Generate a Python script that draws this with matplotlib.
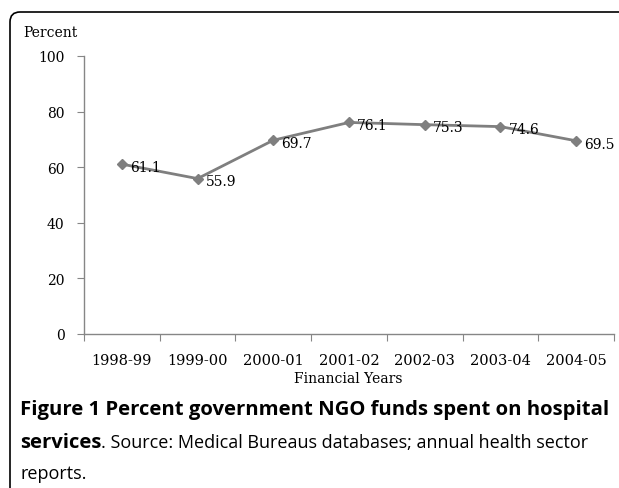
import matplotlib
matplotlib.use("Agg")
import matplotlib.pyplot as plt
from matplotlib.patches import FancyBboxPatch
from matplotlib.transforms import IdentityTransform

years = ["1998-99", "1999-00", "2000-01", "2001-02", "2002-03", "2003-04", "2004-05"]
percent = [61.1, 55.9, 69.7, 76.1, 75.3, 74.6, 69.5]
yticks = [0, 20, 40, 60, 80, 100]

W, H = 619, 489
fig = plt.figure(figsize=(W / 100, H / 100), dpi=100)
ax = fig.add_axes([84 / W, 1 - 335 / H, (614 - 84) / W, (335 - 57) / H])

serif = "DejaVu Serif"
gray = "#7f7f7f"
axc = "#868686"

x = list(range(len(years)))
ax.plot(x, percent, color=gray, lw=2, marker="D", ms=5.5, mfc=gray, mec=gray)
for xi, v in zip(x, percent):
    ax.annotate(f"{v}", (xi, v), xytext=(6, -2), textcoords="offset points",
                ha="left", va="center", fontsize=10, family=serif, color="black")

ax.set_xlim(-0.5, len(years) - 0.5)
ax.set_ylim(0, 100)
ax.set_yticks(yticks)
ax.set_yticklabels([str(t) for t in yticks], family=serif, fontsize=10)
ax.set_xticks([i - 0.5 for i in range(len(years) + 1)])
ax.set_xticklabels([])
ax.set_xticks(x, minor=True)
ax.set_xticklabels(years, minor=True, family=serif, fontsize=10.5)
ax.tick_params(axis="x", which="minor", length=0, pad=14)
ax.tick_params(axis="x", which="major", length=5, color=axc, direction="out")
ax.tick_params(axis="y", length=5, color=axc, pad=9)
for s in ["top", "right"]:
    ax.spines[s].set_visible(False)
for s in ["left", "bottom"]:
    ax.spines[s].set_color(axc)
    ax.spines[s].set_linewidth(1)

fig.text(23 / W, 1 - 33 / H, "Percent", family=serif, fontsize=10, va="center", ha="left")
fig.text(348 / W, 1 - 379 / H, "Financial Years", family=serif, fontsize=10, va="center", ha="center")

# frame
frame = FancyBboxPatch((10, -100), 800, H - 13 + 100,
                       boxstyle="round,pad=0,rounding_size=10",
                       transform=IdentityTransform(), fill=False, ec="black", lw=1.2)
fig.add_artist(frame)

cap = "Open Sans"
fig.text(20 / W, 1 - 410 / H, "Figure 1 Percent government NGO funds spent on hospital",
         family=cap, fontweight="bold", fontsize=14.6, va="center", ha="left")
t = fig.text(20 / W, 1 - 443 / H, "services", family=cap, fontweight="bold",
             fontsize=14.6, va="center", ha="left")
fig.canvas.draw()
bb = t.get_window_extent()
fig.text(bb.x1 / W, 1 - 443 / H,
         ". Source: Medical Bureaus databases; annual health sector",
         family=cap, fontsize=13, va="center", ha="left")
fig.text(20 / W, 1 - 474 / H, "reports.", family=cap, fontsize=13, va="center", ha="left")

fig.savefig("out.png", dpi=100)
